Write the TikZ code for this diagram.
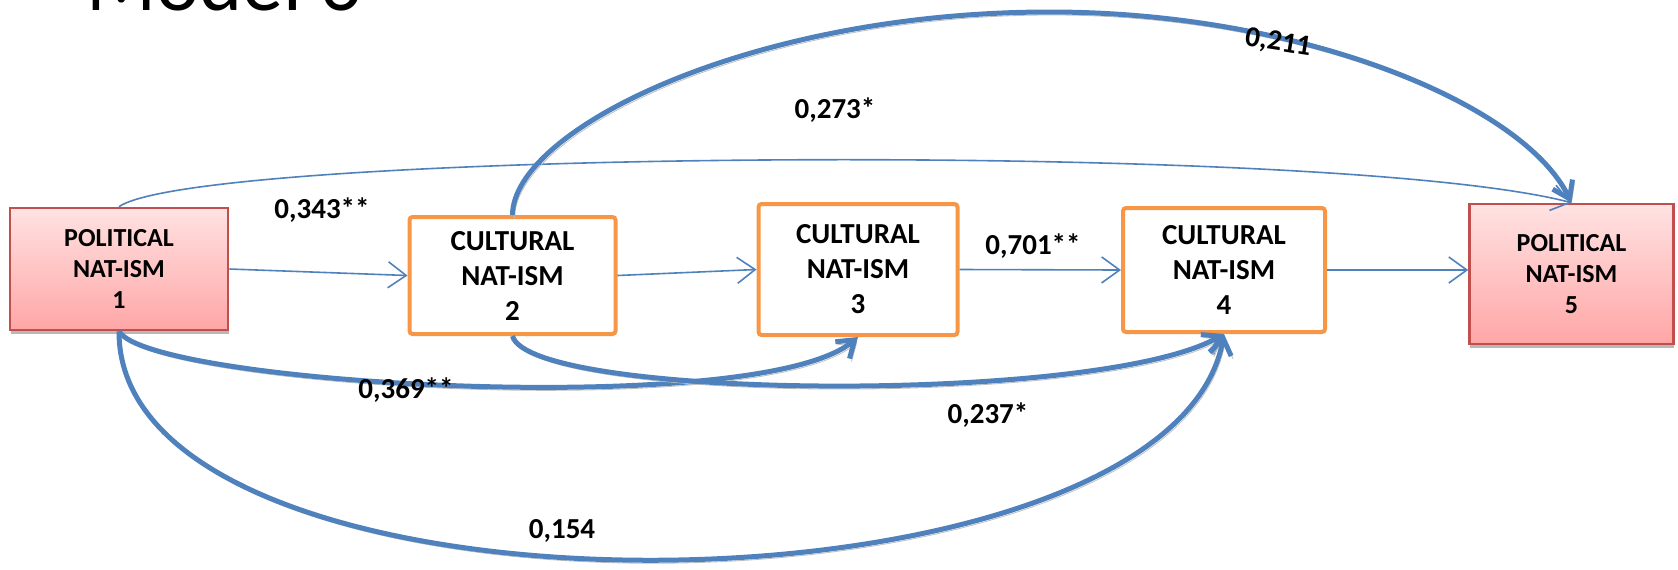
\documentclass[tikz,border=0pt]{standalone}
\usepackage{fontspec}
\setmainfont{Carlito}
\usepackage{tikz}
\usetikzlibrary{arrows.meta,positioning,calc}
\definecolor{azul}{RGB}{79,129,189}
\definecolor{naranja}{RGB}{247,150,70}
\definecolor{rojo}{RGB}{192,80,77}
\definecolor{rosa}{RGB}{255,226,226}
\definecolor{rosaosc}{RGB}{255,166,166}

\begin{document}
\begin{tikzpicture}[x=0.5pt,y=-0.5pt,
  polbox/.style={draw=rojo,line width=1.3pt,top color=rosa,bottom color=rosaosc,inner sep=0pt,align=center,
    font=\bfseries\fontsize{13}{15.5}\selectfont,
    preaction={fill=black!28,transform canvas={shift={(0.4pt,-2pt)}}}},
  culbox/.style={draw=naranja,line width=2pt,fill=white,rounded corners=1.5pt,inner sep=0pt,align=center,
    font=\bfseries\fontsize{14.5}{17.5}\selectfont},
  fina/.style={draw=azul,line width=0.8pt,-{Straight Barb[length=9pt,width=13pt]}},
  gruesa/.style={draw=azul,line width=2.5pt,-{Straight Barb[length=8pt,width=11pt]},
    preaction={draw=black!25,transform canvas={shift={(1pt,-1.5pt)}}}},
  coef/.style={font=\bfseries\fontsize{14.5}{17}\selectfont,inner sep=0pt}]
\useasboundingbox (0,0) rectangle (1678,569);
\clip (0,0) rectangle (1678,569);

% title, cut by the top edge
\node[font=\fontsize{41}{49}\selectfont,anchor=base west,inner sep=0pt] (titulo) at (86,10) {Model 6};

% boxes
\node[polbox,minimum width=109pt,minimum height=61pt] (pol1) at (119,269) {POLITICAL\\NAT-ISM\\1};
\node[culbox,minimum width=103pt,minimum height=58.5pt] (cul2) at (512.5,275.5) {CULTURAL\\NAT-ISM\\2};
\node[culbox,minimum width=99.5pt,minimum height=65.5pt] (cul3) at (858,269.5) {CULTURAL\\NAT-ISM\\3};
\node[culbox,minimum width=101pt,minimum height=62pt] (cul4) at (1224,270) {CULTURAL\\NAT-ISM\\4};
\node[polbox,minimum width=102pt,minimum height=70pt] (pol5) at (1571.5,274) {POLITICAL\\NAT-ISM\\5};

% direct paths
\draw[fina] (pol1.east) -- (cul2.west);
\draw[fina] (cul2.east) -- (cul3.west);
\draw[fina] (cul3.east) -- (cul4.west);
\draw[fina] (cul4.east) -- (cul4.east -| pol5.west);

% curved paths
\coordinate (cima) at (1050,12);
\draw[fina] (pol1.north) .. controls (200,150) and (1330,140) .. (pol5.north);
\draw[gruesa] (cul2.north) .. controls (513,130) and (750,12) .. (cima)
  .. controls (1300,12) and (1523,103) .. (pol5.north);
\draw[gruesa] (pol1.south) .. controls (150,385) and (760,420) .. (cul3.south);
\draw[gruesa] (cul2.south) .. controls (530,400) and (1100,405) .. (cul4.south);
\draw[gruesa] (pol1.south) .. controls (118,640) and (1170,630) .. (cul4.south);

% coefficients
\node[coef,rotate=-9] (c211) at (1278,43) {0,211};
\node[coef,anchor=base] (c273) at (835,118) {0,273*};
\node[coef,anchor=base] (c343) at (322,218) {0,343**};
\node[coef,anchor=base] (c701) at (1033,254) {0,701**};
\node[coef,anchor=base] (c369) at (406,398) {0,369**};
\node[coef,anchor=base] (c237) at (988,423) {0,237*};
\node[coef,anchor=base] (c154) at (562,538) {0,154};
\end{tikzpicture}
\end{document}
